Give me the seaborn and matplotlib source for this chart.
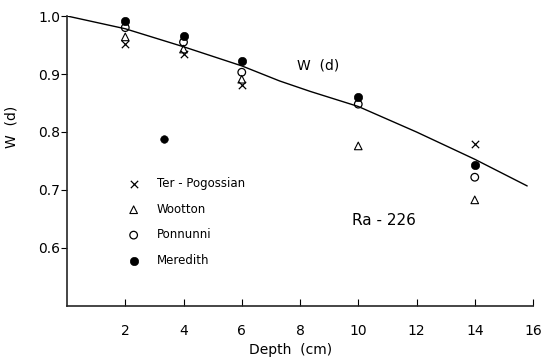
import numpy as np
import pandas as pd
import matplotlib
matplotlib.use("Agg")
import matplotlib.pyplot as plt
import seaborn as sns

# ---- data ----
depth = [2, 4, 6, 10, 14]
ter_pogossian = [0.951, 0.934, 0.881, None, 0.780]
wootton = [0.964, 0.943, 0.891, 0.776, 0.683]
ponnunni = [0.980, 0.955, 0.903, 0.848, 0.722]
meredith = [0.991, 0.966, 0.922, 0.861, 0.743]

# stray dot in the scan
stray_depth = [3.33]
stray_w = [0.788]

# W(d) curve
curve_depth = [0, 2, 4, 6, 7.3, 8.35, 10, 12, 14, 15.8]
curve_w = [1.0, 0.978, 0.947, 0.914, 0.888, 0.870, 0.844, 0.800, 0.753, 0.707]

xticks = [2, 4, 6, 8, 10, 12, 14, 16]
yticks = [0.6, 0.7, 0.8, 0.9, 1.0]
ytick_labels = ["0.6", "0.7", "0.8", "0.9", "1.0"]

sns.set_style("ticks")
plt.rcParams['font.family'] = ['DejaVu Sans']
plt.rcParams['text.color'] = 'black'
plt.rcParams['axes.labelcolor'] = 'black'
plt.rcParams['xtick.color'] = 'black'
plt.rcParams['ytick.color'] = 'black'

fig = plt.figure(figsize=(5.43, 3.62), dpi=100)
ax = fig.add_axes([0.1234, 0.1547, 0.8582, 0.8011])

curve = pd.DataFrame({"d": curve_depth, "w": curve_w})
sns.lineplot(data=curve, x="d", y="w", color="black", linewidth=1.0, ax=ax)

def series(vals):
    df = pd.DataFrame({"d": depth, "w": vals}).dropna()
    return df

sns.scatterplot(data=series(ter_pogossian), x="d", y="w", marker="x", s=28,
                color="black", linewidth=0.9, ax=ax, label="Ter - Pogossian")
sns.scatterplot(data=series(wootton), x="d", y="w", marker="^", s=30,
                facecolor="none", edgecolor="black", linewidth=0.8, ax=ax, label="Wootton")
sns.scatterplot(data=series(ponnunni), x="d", y="w", marker="o", s=30,
                facecolor="none", edgecolor="black", linewidth=0.9, ax=ax, label="Ponnunni")
sns.scatterplot(data=series(meredith), x="d", y="w", marker="o", s=36,
                color="black", edgecolor="black", ax=ax, label="Meredith")
sns.scatterplot(x=stray_depth, y=stray_w, marker="o", s=30, color="black",
                edgecolor="black", ax=ax)

ax.set_xlim(0, 16)
ax.set_ylim(0.5, 1.0)
ax.set_xticks(xticks)
ax.set_xticklabels([str(t) for t in xticks])
ax.set_yticks(yticks)
ax.set_yticklabels(ytick_labels)
ax.tick_params(axis="x", direction="in", length=5, labelsize=10, pad=13)
ax.tick_params(axis="y", direction="out", length=4, labelsize=10, pad=1)
sns.despine(ax=ax)
for sp in ["left", "bottom"]:
    ax.spines[sp].set_linewidth(1.2)

ax.set_xlabel("Depth  (cm)", fontsize=10)
ax.set_ylabel("W  (d)", fontsize=10)
ax.xaxis.set_label_coords(0.48, -0.128)
ax.yaxis.set_label_coords(-0.105, 0.617)

ax.text(7.9, 0.914, "W  (d)", fontsize=10, va="center", ha="left")
ax.text(9.8, 0.648, "Ra - 226", fontsize=11, va="center", ha="left")

leg = ax.legend(loc="upper left", bbox_to_anchor=(0.105, 0.48), frameon=False,
                fontsize=8.5, labelspacing=1.05, handletextpad=1.35, handlelength=1.2)

fig.savefig("out.png", dpi=100)
